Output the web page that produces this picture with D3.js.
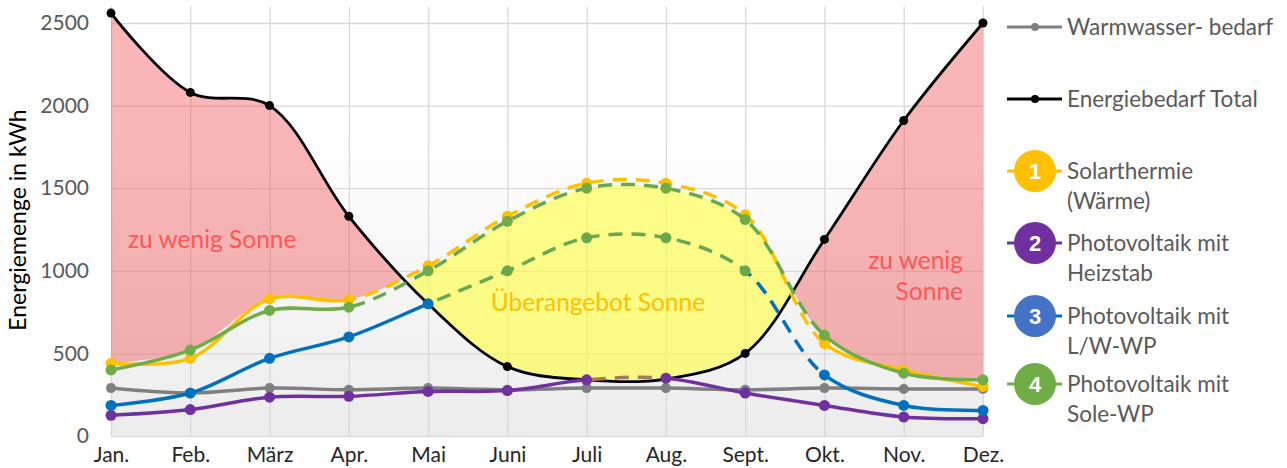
<!DOCTYPE html>
<html>
<head>
<meta charset="utf-8">
<script src="https://cdn.jsdelivr.net/npm/d3@7"></script>
<style>
body { margin: 0; background: #fff; }
svg { display: block; font-family: Lato, "Open Sans", sans-serif; }
</style>
</head>
<body>
<svg id="chart" width="1287" height="468"></svg>
<script>
// values (kWh per month)
var months = ["Jan.", "Feb.", "März", "Apr.", "Mai", "Juni", "Juli", "Aug.", "Sept.", "Okt.", "Nov.", "Dez."];
var yTicks = [0, 500, 1000, 1500, 2000, 2500];
var warmwasser = [290, 260, 290, 280, 290, 280, 290, 290, 280, 290, 285, 285];
var total = [2560, 2080, 2000, 1330, 800, 420, 340, 345, 500, 1190, 1910, 2500];
var solarthermie = [440, 470, 830, 825, 1030, 1330, 1530, 1530, 1340, 560, 400, 300];
var pvHeizstab = [125, 160, 235, 240, 270, 275, 340, 350, 260, 185, 115, 105];
var pvLwWp = [185, 260, 470, 600, 800, 1000, 1200, 1200, 1000, 370, 185, 155];
var pvSoleWp = [400, 520, 760, 780, 1000, 1300, 1500, 1500, 1310, 610, 380, 340];
var legendLabels = [["Warmwasser- bedarf"], ["Energiebedarf Total"], ["Solarthermie", "(Wärme)"],
  ["Photovoltaik mit", "Heizstab"], ["Photovoltaik mit", "L/W-WP"], ["Photovoltaik mit", "Sole-WP"]];
var legendNumbers = ["1", "2", "3", "4"];

var pLeft = 111, pRight = 983, pTop = 6.5, pBottom = 436;

var svg = d3.select("#chart");
var defs = svg.append("defs");

var x = d3.scalePoint().domain(months).range([pLeft, pRight]);
var y = d3.scaleLinear().domain([0, 2600]).range([pBottom, pTop]);
var curve = d3.curveCatmullRom.alpha(0.5);

// plot background gradient
var grad = defs.append("linearGradient").attr("id", "bg")
  .attr("x1", 0).attr("y1", 0).attr("x2", 0).attr("y2", 1);
grad.append("stop").attr("offset", "0%").attr("stop-color", "#ffffff");
grad.append("stop").attr("offset", "30%").attr("stop-color", "#ffffff");
grad.append("stop").attr("offset", "100%").attr("stop-color", "#ececec");

svg.append("rect")
  .attr("x", pLeft).attr("y", pTop)
  .attr("width", pRight - pLeft).attr("height", pBottom - pTop)
  .attr("fill", "url(#bg)");

// grid + axes
var yAxis = svg.append("g")
  .attr("transform", "translate(" + pLeft + ",0)")
  .call(d3.axisLeft(y).tickValues(yTicks).tickFormat(d3.format("d"))
    .tickSize(-(pRight - pLeft)).tickPadding(22));
yAxis.select(".domain").remove();
yAxis.selectAll("line").attr("stroke", "#d9d9d9").attr("stroke-width", 1.3);
yAxis.selectAll("text").attr("fill", "#595959").style("font-size", "21px").style("font-family", "Lato, sans-serif");

var xAxis = svg.append("g")
  .attr("transform", "translate(0," + pBottom + ")")
  .call(d3.axisBottom(x).tickSize(-(pBottom - pTop)).tickPadding(11));
xAxis.select(".domain").remove();
xAxis.selectAll("line").attr("stroke", "#d9d9d9").attr("stroke-width", 1.3);
xAxis.selectAll("text").attr("fill", "#262626").style("font-size", "21px").style("font-family", "Lato, sans-serif");

// y axis title
svg.append("text")
  .attr("transform", "translate(26,220) rotate(-90)")
  .attr("text-anchor", "middle")
  .style("font-size", "23px")
  .attr("fill", "#000")
  .text("Energiemenge in kWh");

// shaded areas
var solarTop = solarthermie.map(function (v, i) { return Math.max(v, pvSoleWp[i]); });
var px = function (d, i) { return x(months[i]); };

defs.append("clipPath").attr("id", "belowTotal").append("path")
  .attr("d", d3.area().x(px).y0(y(0)).y1(function (d) { return y(d); }).curve(curve)(total));
defs.append("clipPath").attr("id", "belowSole").append("path")
  .attr("d", d3.area().x(px).y0(y(0)).y1(function (d) { return y(d); }).curve(curve)(pvSoleWp));

svg.append("path")
  .attr("d", d3.area().x(px).y0(function (d) { return y(d); }).y1(pTop).curve(curve)(solarTop))
  .attr("clip-path", "url(#belowTotal)")
  .attr("fill", "rgba(240,80,80,0.42)");

svg.append("path")
  .attr("d", d3.area().x(px).y0(function (d) { return y(d); }).y1(pTop).curve(curve)(total))
  .attr("clip-path", "url(#belowSole)")
  .attr("fill", "rgba(255,255,60,0.6)");

svg.append("text").attr("x", 128).attr("y", 248)
  .style("font-size", "24.5px").attr("fill", "#ff5757").text("zu wenig Sonne");
svg.append("text").attr("x", 598).attr("y", 311).attr("text-anchor", "middle")
  .style("font-size", "24.5px").attr("fill", "#ffc000").text("Überangebot Sonne");
svg.append("text").attr("x", 963).attr("y", 269).attr("text-anchor", "end")
  .style("font-size", "24.5px").attr("fill", "#ff5757").text("zu wenig");
svg.append("text").attr("x", 963).attr("y", 300).attr("text-anchor", "end")
  .style("font-size", "24.5px").attr("fill", "#ff5757").text("Sonne");

// line series, each drawn in segments (solid / dashed / colour change)
var dash = "14,9";
var series = [
  { v: total, w: 2.8, r: 4.5, segs: [[0, 11, "#000", null]], mk: function () { return "#000"; } },
  { v: warmwasser, w: 3.5, r: 5, segs: [[0, 11, "#7f7f7f", null]], mk: function () { return "#7f7f7f"; } },
  { v: pvHeizstab, w: 3.5, r: 5.5, segs: [[0, 6, "#7030a0", null], [6, 7, "#a27a5a", dash], [7, 11, "#7030a0", null]],
    mk: function () { return "#7030a0"; } },
  { v: pvLwWp, w: 3.5, r: 5.5, segs: [[0, 4, "#0070c0", null], [4, 8, "#6aa84f", dash], [8, 9, "#0070c0", dash], [9, 11, "#0070c0", null]],
    mk: function (i) { return (i > 4 && i < 9) ? "#6aa84f" : "#0070c0"; } },
  { v: solarthermie, w: 3.5, r: 5.5, segs: [[0, 3, "#ffc000", null], [3, 9, "#ffc000", dash], [9, 11, "#ffc000", null]],
    mk: function () { return "#ffc000"; } },
  { v: pvSoleWp, w: 3.5, r: 5.5, segs: [[0, 3, "#70ad47", null], [3, 9, "#6aa84f", dash], [9, 11, "#70ad47", null]],
    mk: function () { return "#70ad47"; } }
];

var line = d3.line().x(px).y(function (d) { return y(d); }).curve(curve);
var clipIds = {};
function segClip(a, b) {
  var id = "seg" + a + "_" + b;
  if (!clipIds[id]) {
    defs.append("clipPath").attr("id", id).append("rect")
      .attr("x", x(months[a])).attr("y", 0)
      .attr("width", x(months[b]) - x(months[a])).attr("height", 468);
    clipIds[id] = true;
  }
  return "url(#" + id + ")";
}

series.forEach(function (s) {
  var g = svg.append("g");
  s.segs.forEach(function (sg) {
    g.append("path")
      .attr("d", line(s.v))
      .attr("clip-path", segClip(sg[0], sg[1]))
      .attr("fill", "none")
      .attr("stroke", sg[2])
      .attr("stroke-width", s.w)
      .attr("stroke-dasharray", sg[3]);
  });
  g.selectAll("circle").data(s.v).enter().append("circle")
    .attr("cx", px)
    .attr("cy", function (d) { return y(d); })
    .attr("r", s.r)
    .attr("fill", function (d, i) { return s.mk(i); });
});

// legend
var lg = svg.append("g");
var lx = 1007, lx2 = 1062, lcx = 1035, tx = 1067;
var plainRows = [{ c: 27, col: "#7f7f7f", r: 4 }, { c: 99, col: "#000", r: 4 }];
plainRows.forEach(function (row, i) {
  lg.append("line").attr("x1", lx).attr("x2", lx2).attr("y1", row.c).attr("y2", row.c)
    .attr("stroke", row.col).attr("stroke-width", 3);
  lg.append("circle").attr("cx", lcx).attr("cy", row.c).attr("r", row.r).attr("fill", row.col);
  lg.append("text").attr("x", tx).attr("y", row.c + 8).style("font-size", "22.5px")
    .attr("fill", "#595959").text(legendLabels[i][0]);
});
var numRows = [
  { c: 171, line: "#ffc000", fill: "#ffc000" },
  { c: 243, line: "#7030a0", fill: "#7030a0" },
  { c: 316, line: "#0070c0", fill: "#4472c4" },
  { c: 384, line: "#70ad47", fill: "#70ad47" }
];
numRows.forEach(function (row, i) {
  lg.append("line").attr("x1", lx).attr("x2", lx2).attr("y1", row.c).attr("y2", row.c)
    .attr("stroke", row.line).attr("stroke-width", 3);
  lg.append("circle").attr("cx", lcx).attr("cy", row.c).attr("r", 21).attr("fill", row.fill);
  lg.append("text").attr("x", lcx).attr("y", row.c + 8).attr("text-anchor", "middle")
    .style("font-family", "'Liberation Sans', Arial, sans-serif").style("font-weight", "bold")
    .style("font-size", "22px").attr("fill", "#fff").text(legendNumbers[i]);
  legendLabels[i + 2].forEach(function (t, j) {
    lg.append("text").attr("x", tx).attr("y", row.c + 8 + j * 30).style("font-size", "22.5px")
      .attr("fill", "#595959").text(t);
  });
});
</script>
</body>
</html>
